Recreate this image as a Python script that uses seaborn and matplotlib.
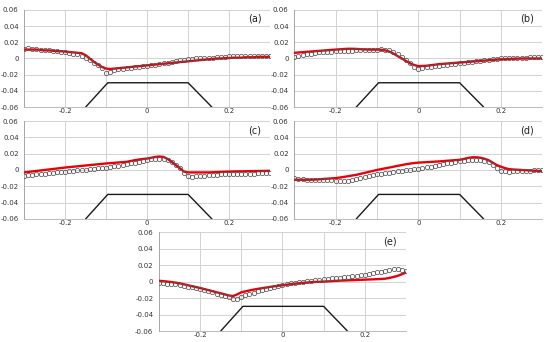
import numpy as np
import pandas as pd
import matplotlib
matplotlib.use('Agg')
import matplotlib.pyplot as plt
from matplotlib.ticker import FixedLocator, FuncFormatter
import seaborn as sns

# x positions shared by every panel (-0.30 .. 0.30, step 0.01)
X = np.round(np.linspace(-0.3, 0.3, 61), 2)

# red curve (model) per panel
RED_A = [0.011, 0.011, 0.011, 0.011, 0.0105, 0.010, 0.010, 0.0095, 0.009, 0.009,
         0.0085, 0.008, 0.0075, 0.007, 0.0065, 0.004, 0.0, -0.004, -0.0075, -0.0105,
         -0.0125, -0.013, -0.0125, -0.012, -0.0115, -0.011, -0.0105, -0.010, -0.0095, -0.009,
         -0.0085, -0.008, -0.0075, -0.007, -0.0065, -0.006, -0.0055, -0.005, -0.0045, -0.004,
         -0.0035, -0.003, -0.0025, -0.002, -0.0015, -0.001, -0.0005, 0.0, 0.0, 0.0005,
         0.0005, 0.001, 0.001, 0.001, 0.0015, 0.0015, 0.0015, 0.002, 0.002, 0.002, 0.002]
RED_B = [0.007, 0.0074, 0.0078, 0.0082, 0.0086, 0.009, 0.0094, 0.0098, 0.0102, 0.0106,
         0.011, 0.0113, 0.0117, 0.012, 0.012, 0.0118, 0.0115, 0.0112, 0.011, 0.011,
         0.011, 0.0108, 0.010, 0.0085, 0.006, 0.003, 0.0, -0.003, -0.006, -0.008,
         -0.0095, -0.0093, -0.009, -0.0083, -0.0077, -0.007, -0.0066, -0.0062, -0.0058, -0.0054,
         -0.005, -0.0046, -0.0042, -0.0038, -0.0034, -0.003, -0.0026, -0.0022, -0.0018, -0.0014,
         -0.001, -0.0008, -0.0006, -0.0004, -0.0002, 0.0, 0.0, 0.0, 0.0, 0.0, 0.0]
RED_C = [-0.003, -0.0024, -0.0018, -0.0012, -0.0006, 0.0, 0.0006, 0.0012, 0.0018, 0.0024,
         0.003, 0.0035, 0.004, 0.0045, 0.005, 0.0055, 0.006, 0.0065, 0.007, 0.0075,
         0.008, 0.0084, 0.0088, 0.0092, 0.0096, 0.010, 0.011, 0.012, 0.0128, 0.0135,
         0.014, 0.015, 0.016, 0.0165, 0.016, 0.0135, 0.010, 0.006, 0.002, -0.002,
         -0.003, -0.003, -0.003, -0.003, -0.003, -0.003, -0.0028, -0.0026, -0.0024, -0.0022,
         -0.002, -0.0019, -0.0018, -0.0017, -0.0016, -0.0015, -0.0014, -0.0013, -0.0012, -0.0011, -0.001]
RED_D = [-0.012, -0.012, -0.012, -0.012, -0.012, -0.0118, -0.0115, -0.011, -0.0107, -0.0103,
         -0.010, -0.0093, -0.0085, -0.0077, -0.0068, -0.006, -0.0048, -0.0036, -0.0024, -0.0012,
         0.0, 0.001, 0.002, 0.003, 0.004, 0.005, 0.006, 0.007, 0.0078, 0.0085,
         0.009, 0.0093, 0.0096, 0.0099, 0.0102, 0.0105, 0.0109, 0.0113, 0.0117, 0.0121,
         0.0125, 0.0135, 0.0147, 0.0155, 0.0156, 0.015, 0.0138, 0.012, 0.009, 0.006,
         0.004, 0.0022, 0.001, 0.0006, 0.0003, 0.0, -0.0003, -0.0006, -0.0009, -0.0012, -0.0015]
RED_E = [0.001, 0.0006, 0.0001, -0.0005, -0.0012, -0.002, -0.0031, -0.0043, -0.0055, -0.0066,
         -0.0077, -0.009, -0.0103, -0.0116, -0.0129, -0.0141, -0.0155, -0.0168, -0.0175, -0.0155,
         -0.013, -0.0118, -0.0107, -0.0097, -0.0088, -0.008, -0.0072, -0.0064, -0.0057, -0.005,
         -0.0044, -0.0038, -0.0032, -0.0026, -0.002, -0.0015, -0.0011, -0.0007, -0.0004, -0.0002,
         0.0, 0.0003, 0.0006, 0.0009, 0.0012, 0.0014, 0.0016, 0.0018, 0.002, 0.0022,
         0.0024, 0.0026, 0.0028, 0.003, 0.0033, 0.0036, 0.0045, 0.0057, 0.007, 0.009, 0.011]

# open markers (measurements) per panel
PTS_A = [0.012, 0.0125, 0.012, 0.0115, 0.011, 0.0105, 0.010, 0.0095, 0.009, 0.0085,
         0.008, 0.007, 0.006, 0.005, 0.003, 0.0005, -0.002, -0.005, -0.008, -0.012,
         -0.018, -0.0165, -0.0145, -0.013, -0.0125, -0.012, -0.0115, -0.011, -0.010, -0.0095,
         -0.009, -0.0085, -0.008, -0.007, -0.006, -0.005, -0.004, -0.003, -0.002, -0.0015,
         -0.001, -0.0005, 0.0, 0.0, 0.0005, 0.001, 0.001, 0.0015, 0.002, 0.002,
         0.0025, 0.0025, 0.003, 0.003, 0.003, 0.003, 0.003, 0.003, 0.003, 0.003, 0.003]
PTS_B = [0.002, 0.003, 0.004, 0.005, 0.006, 0.007, 0.0074, 0.0078, 0.0082, 0.0086,
         0.009, 0.0092, 0.0094, 0.0096, 0.0098, 0.010, 0.010, 0.010, 0.010, 0.0105,
         0.011, 0.012, 0.011, 0.010, 0.008, 0.005, 0.002, -0.002, -0.006, -0.011,
         -0.0125, -0.012, -0.011, -0.0103, -0.0097, -0.009, -0.0084, -0.0078, -0.0072, -0.0066,
         -0.006, -0.0054, -0.0048, -0.0042, -0.0036, -0.003, -0.0024, -0.0018, -0.0012, -0.0006,
         0.0, 0.0002, 0.0004, 0.0006, 0.0008, 0.001, 0.0012, 0.0014, 0.0016, 0.0018, 0.002]
PTS_C = [-0.007, -0.0065, -0.006, -0.0055, -0.005, -0.0045, -0.004, -0.0035, -0.003, -0.0025,
         -0.002, -0.0015, -0.001, -0.0005, 0.0, 0.0005, 0.001, 0.0015, 0.002, 0.0025,
         0.003, 0.0038, 0.0046, 0.0054, 0.0062, 0.007, 0.008, 0.009, 0.010, 0.011,
         0.012, 0.013, 0.0135, 0.0135, 0.013, 0.012, 0.010, 0.0065, 0.002, -0.004,
         -0.008, -0.0082, -0.008, -0.0075, -0.0068, -0.006, -0.0058, -0.0056, -0.0054, -0.0052,
         -0.005, -0.0049, -0.0048, -0.0047, -0.0046, -0.0045, -0.0044, -0.0043, -0.0042, -0.0041, -0.004]
PTS_D = [-0.010, -0.0108, -0.0113, -0.0117, -0.012, -0.0122, -0.0124, -0.0126, -0.0128, -0.0129,
         -0.013, -0.0131, -0.0131, -0.013, -0.0123, -0.0115, -0.0103, -0.009, -0.0077, -0.0064,
         -0.0055, -0.0047, -0.004, -0.0033, -0.0025, -0.0018, -0.0012, -0.0006, 0.0, 0.0006,
         0.0012, 0.0022, 0.0032, 0.0042, 0.0052, 0.0062, 0.0072, 0.0082, 0.009, 0.0098,
         0.0105, 0.0112, 0.0119, 0.0125, 0.0128, 0.0125, 0.0113, 0.0093, 0.0065, 0.003,
         -0.001, -0.0018, -0.002, -0.0018, -0.0015, -0.0012, -0.001, -0.0008, -0.0005, -0.0003, 0.0]
PTS_E = [-0.0016, -0.002, -0.0024, -0.0028, -0.0032, -0.004, -0.005, -0.006, -0.007, -0.0078,
         -0.0087, -0.0101, -0.0115, -0.013, -0.0145, -0.016, -0.0175, -0.0192, -0.0205, -0.0205,
         -0.0188, -0.0168, -0.015, -0.0133, -0.0117, -0.0102, -0.0088, -0.0075, -0.0062, -0.005,
         -0.004, -0.003, -0.002, -0.0012, -0.0005, 0.0, 0.0006, 0.0012, 0.0018, 0.0024,
         0.003, 0.0035, 0.004, 0.0045, 0.005, 0.0055, 0.006, 0.0066, 0.0072, 0.0078,
         0.0085, 0.0093, 0.0102, 0.0111, 0.012, 0.0129, 0.0138, 0.0148, 0.0152, 0.0145, 0.0125]

# trapezoid outline drawn under each panel
TRAP_X = [-0.15, -0.096, 0.1, 0.158]
TRAP_Y = [-0.06, -0.03, -0.03, -0.06]

LABELS = ['(a)', '(b)', '(c)', '(d)', '(e)']
# axes boxes in figure fraction [left, bottom, width, height]
BOXES = [
    [0.044, 0.687, 0.447, 0.284],
    [0.535, 0.687, 0.451, 0.284],
    [0.044, 0.360, 0.447, 0.286],
    [0.535, 0.360, 0.451, 0.286],
    [0.289, 0.032, 0.449, 0.289],
]

sns.set_style('white')
plt.rcParams['font.family'] = ['DejaVu Sans']
plt.rcParams['axes.unicode_minus'] = False

def fmt(v, pos):
    if abs(v) < 1e-9:
        return '0'
    return f'{v:g}'

fig = plt.figure(figsize=(5.5, 3.42), dpi=100)

for box, lab, red, pts in zip(BOXES, LABELS,
                              [RED_A, RED_B, RED_C, RED_D, RED_E],
                              [PTS_A, PTS_B, PTS_C, PTS_D, PTS_E]):
    ax = fig.add_axes(box)
    df = pd.DataFrame({'x': X, 'red': red, 'pts': pts})
    trap = pd.DataFrame({'x': TRAP_X, 'y': TRAP_Y})

    sns.lineplot(data=trap, x='x', y='y', ax=ax, color='#1a1a1a', lw=1.0,
                 sort=False, zorder=2)
    sns.lineplot(data=df, x='x', y='red', ax=ax, color='#e8000b', lw=1.7,
                 zorder=3)
    sns.lineplot(data=df, x='x', y='pts', ax=ax, ls='none', marker='o',
                 markersize=3.1, markerfacecolor='none',
                 markeredgecolor='#555555', markeredgewidth=0.55, zorder=4)

    ax.set_xlim(-0.3, 0.3)
    ax.set_ylim(-0.06, 0.06)
    ax.xaxis.set_major_locator(FixedLocator([-0.2, 0, 0.2]))
    ax.xaxis.set_minor_locator(FixedLocator([-0.1, 0.1]))
    ax.yaxis.set_major_locator(FixedLocator([-0.06, -0.04, -0.02, 0, 0.02, 0.04, 0.06]))
    ax.yaxis.set_minor_locator(FixedLocator([-0.05, -0.03, -0.01, 0.01, 0.03, 0.05]))
    ax.xaxis.set_major_formatter(FuncFormatter(fmt))
    ax.yaxis.set_major_formatter(FuncFormatter(fmt))
    ax.grid(True, axis='x', which='both', color='#d2d2d2', lw=0.7)
    ax.grid(True, axis='y', which='major', color='#d2d2d2', lw=0.7)
    ax.set_axisbelow(True)
    ax.tick_params(axis='x', which='both', length=0, labelsize=5, pad=1,
                   labelcolor='#333333')
    ax.tick_params(axis='y', which='major', length=2.5, width=0.5, color='#888888',
                   labelsize=5, pad=1.5, labelcolor='#333333')
    ax.tick_params(axis='y', which='minor', length=1.5, width=0.5, color='#888888')
    ax.set_xlabel('')
    ax.set_ylabel('')
    for s in ['top', 'right']:
        ax.spines[s].set_visible(False)
    ax.spines['left'].set_color('#999999')
    ax.spines['left'].set_linewidth(0.6)
    ax.spines['bottom'].set_color('#b0b0b0')
    ax.spines['bottom'].set_linewidth(0.6)
    ax.text(0.262, 0.049, lab, ha='center', va='center', fontsize=7,
            color='#222222')

fig.savefig('out.png', dpi=100)
